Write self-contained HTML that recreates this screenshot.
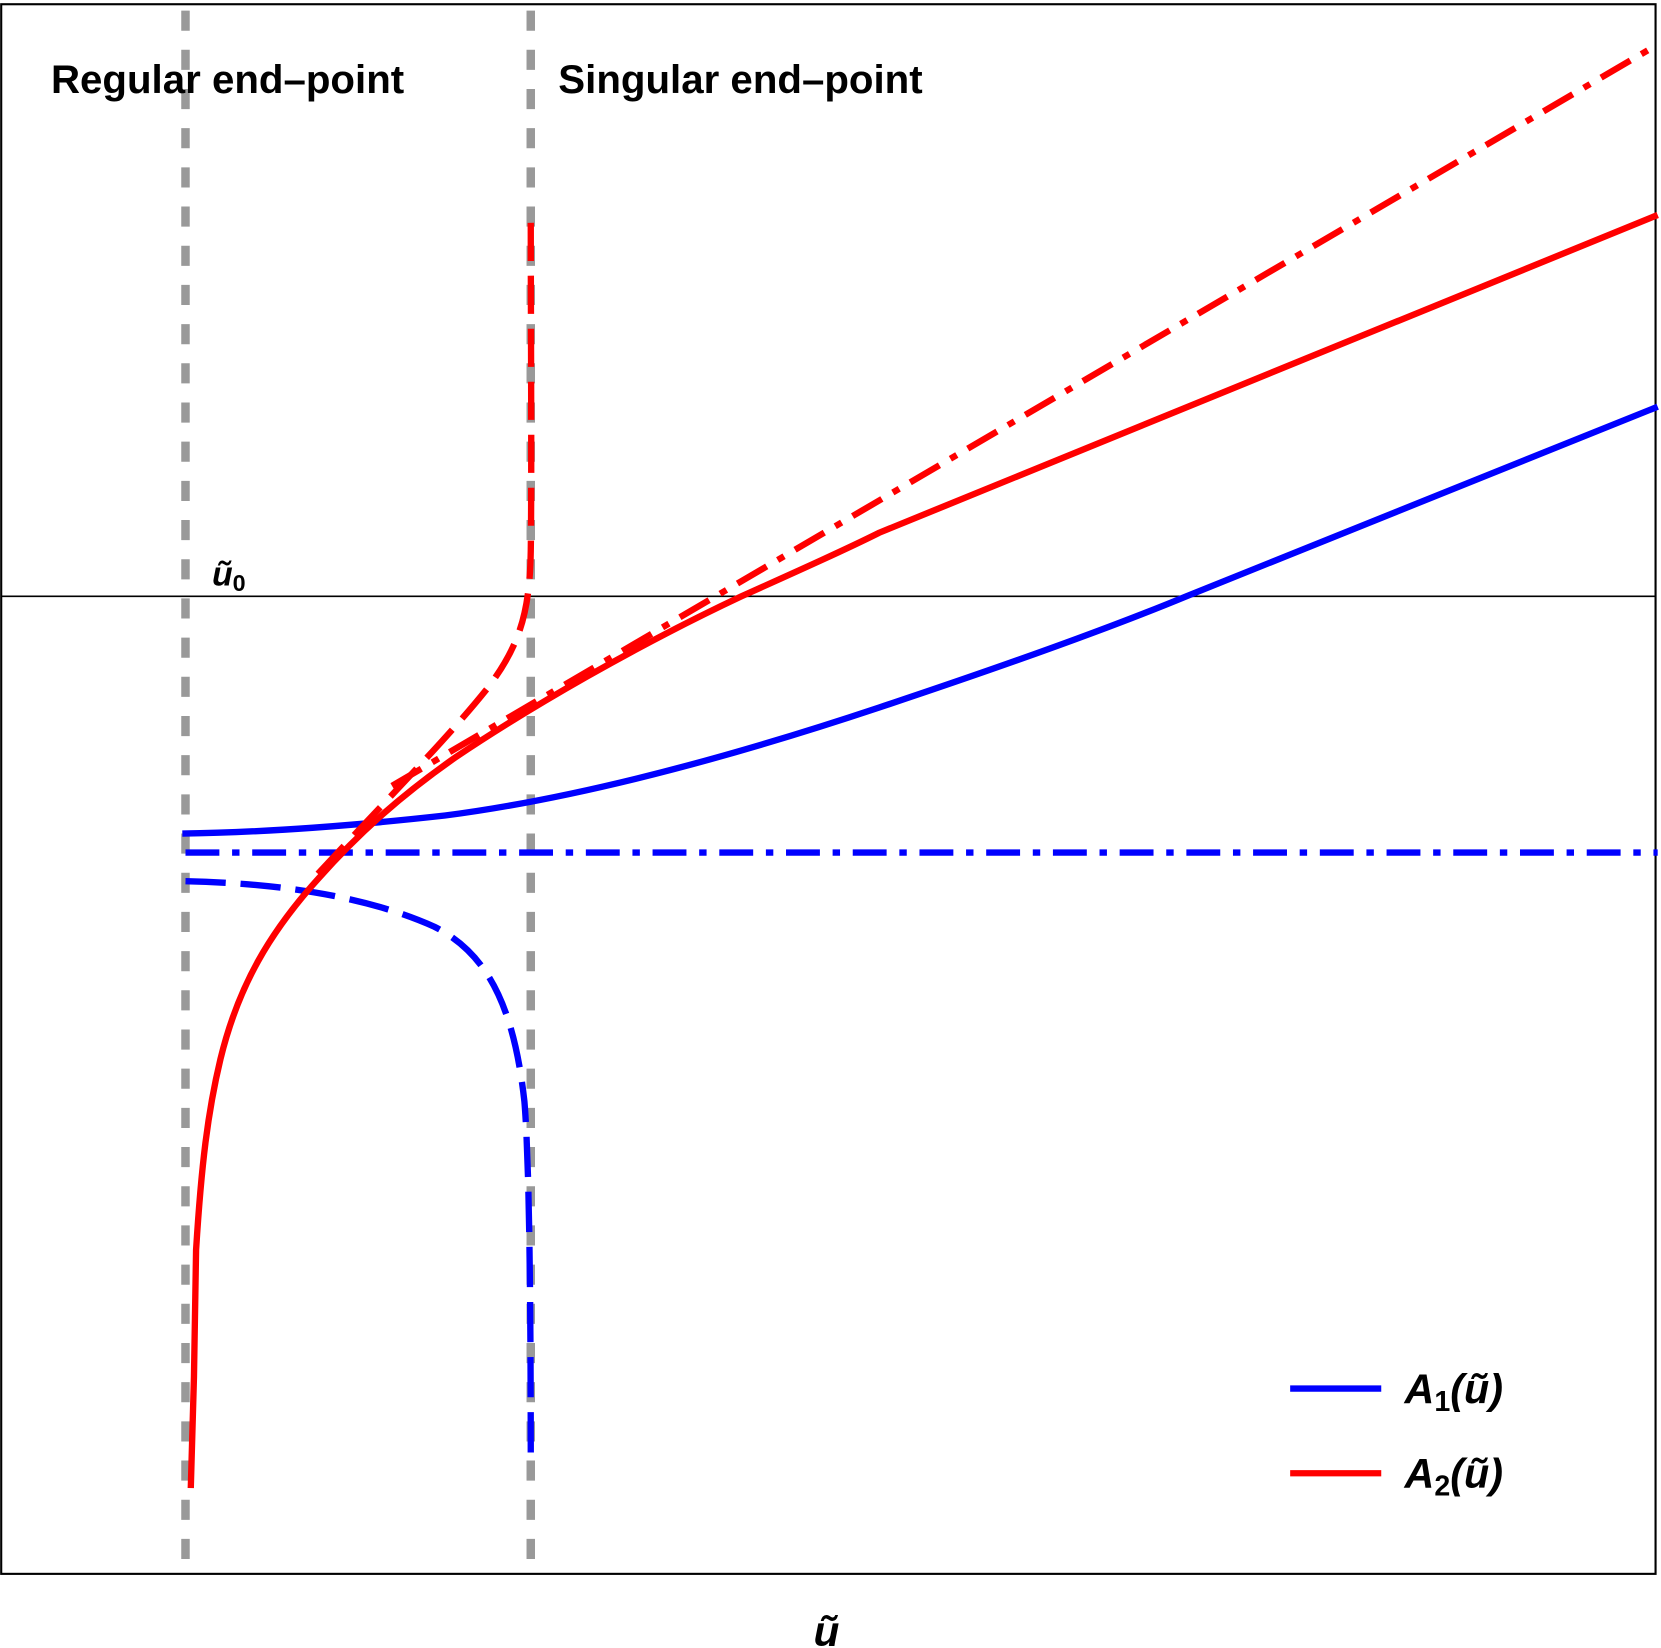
<!DOCTYPE html>
<html><head><meta charset="utf-8"><style>
html,body{margin:0;padding:0;background:#fff}
svg{display:block}
text{font-family:"Liberation Sans",sans-serif;font-weight:bold;fill:#000}
</style></head><body>
<svg width="1661" height="1648" viewBox="0 0 1568 1556" xmlns="http://www.w3.org/2000/svg">
<rect x="1" y="4" width="1562" height="1482" fill="none" stroke="#000" stroke-width="2"/>
<line x1="1" y1="563" x2="1563" y2="563" stroke="#000" stroke-width="1.6"/>
<line x1="175" y1="10" x2="175" y2="1490" stroke="#999" stroke-width="8" stroke-dasharray="19,18"/>
<line x1="501" y1="10" x2="501" y2="1490" stroke="#999" stroke-width="8" stroke-dasharray="19,18"/>
<g fill="none" stroke-width="6">
<line x1="175" y1="805" x2="1565" y2="805" stroke="#00f" stroke-dasharray="32,12,7,12"/>
<path d="M175,832 C270,834 350,848 410,875 C460,900 485,950 495,1040 C500,1100 501,1250 501,1385" stroke="#00f" stroke-dasharray="38,14"/>
<path d="M172,787 C250,786 330,780 420,770 C520,757 650,728 830,668 C950,628 1050,592 1120,563 L1565,384" stroke="#00f"/>
<path d="M370,742 L1565,42" stroke="#f00" stroke-dasharray="32,12,7,12"/>
<path d="M300,825 C360,760 420,700 460,650 C490,610 500,580 501,520 C502,450 501,300 501,210" stroke="#f00" stroke-dasharray="36,14"/>
<path d="M180,1405 L183,1300 L185,1180 C190,1100 196,1050 208,1000 C225,930 255,880 300,830 C340,785 380,750 430,715 C500,668 600,610 700,563 C760,536 800,518 830,503 L1565,203" stroke="#f00"/>
</g>
<text x="48" y="88" font-size="38">Regular end–point</text>
<text x="527" y="88" font-size="38">Singular end–point</text>
<text x="200" y="553" font-size="32" font-style="italic">ũ<tspan font-size="22" font-style="normal" dy="5">0</tspan></text>
<text x="768" y="1554" font-size="40" font-style="italic">ũ</text>
<line x1="1218" y1="1311" x2="1304" y2="1311" stroke="#00f" stroke-width="6"/>
<line x1="1218" y1="1391" x2="1304" y2="1391" stroke="#f00" stroke-width="6"/>
<text x="1326" y="1325" font-size="39" font-style="italic">A<tspan font-size="27" font-style="normal" dy="7">1</tspan><tspan dy="-7">(ũ)</tspan></text>
<text x="1326" y="1405" font-size="39" font-style="italic">A<tspan font-size="27" font-style="normal" dy="7">2</tspan><tspan dy="-7">(ũ)</tspan></text>
</svg>
</body></html>
